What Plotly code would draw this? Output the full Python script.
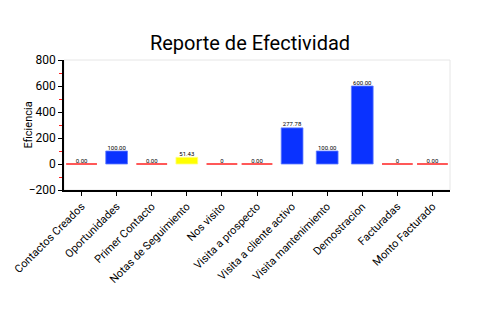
import plotly.graph_objects as go

categorias = ["Contactos Creados", "Oportunidades", "Primer Contacto", "Notas de Seguimiento",
              "Nos visito", "Visita a prospecto", "Visita a cliente activo",
              "Visita mantenimiento", "Demostracion", "Facturadas", "Monto Facturado"]
eficiencia = [0.0, 100.0, 0.0, 51.43, 0.0, 0.0, 277.78, 100.0, 600.0, 0.0, 0.0]
etiquetas = ["0.00", "100.00", "0.00", "51.43", "0", "0.00", "277.78", "100.00", "600.00", "0", "0.00"]

AZUL = "#0A32FF"
AZUL_BORDE = "#5F7BFF"
AMARILLO = "#FFFF00"
AMARILLO_BORDE = "#FFFF80"
ROJO = "#FF2020"

colores = [AMARILLO if 0 < v < 100 else AZUL for v in eficiencia]
bordes = [AMARILLO_BORDE if 0 < v < 100 else AZUL_BORDE for v in eficiencia]
con_valor = [v != 0 for v in eficiencia]
cat_barras = [c for c, m in zip(categorias, con_valor) if m]
val_barras = [v for v, m in zip(eficiencia, con_valor) if m]
col_barras = [c for c, m in zip(colores, con_valor) if m]
bor_barras = [c for c, m in zip(bordes, con_valor) if m]
cat_cero = [c for c, m in zip(categorias, con_valor) if not m]
val_cero = [v for v, m in zip(eficiencia, con_valor) if not m]

FUENTE = "Roboto, sans-serif"

fig = go.Figure()
fig.add_trace(go.Bar(
    x=cat_barras, y=val_barras,
    marker=dict(color=col_barras, line=dict(color=bor_barras, width=0.8)),
    width=0.62, hoverinfo="x+y",
))
# Categories with zero efficiency are drawn as a flat red stroke
fig.add_trace(go.Scatter(
    x=cat_cero, y=val_cero, mode="markers",
    marker=dict(symbol="line-ew", size=22, line=dict(color=ROJO, width=1.5)),
    hoverinfo="x+y",
))
# Value labels
fig.add_trace(go.Scatter(
    x=categorias, y=eficiencia, mode="text", text=etiquetas,
    textposition="top center", textfont=dict(size=6, color="black", family=FUENTE),
    hoverinfo="skip",
))

fig.update_layout(
    width=500, height=330,
    margin=dict(l=60, r=50, t=60, b=140),
    paper_bgcolor="white", plot_bgcolor="white",
    showlegend=False,
    title=dict(text="Reporte de Efectividad", x=0.5, xanchor="center", y=0.87, yanchor="middle",
               font=dict(size=20, color="black", family=FUENTE)),
    shapes=[dict(type="rect", xref="paper", yref="paper", x0=0, y0=0, x1=1, y1=1,
                 line=dict(color="#E6E6E6", width=1), layer="below")],
    annotations=[dict(text="Eficiencia", xref="paper", yref="paper", x=-0.092, y=0.5,
                      textangle=-90, showarrow=False, xanchor="center", yanchor="middle",
                      font=dict(size=11, color="black", family=FUENTE))],
)
fig.update_xaxes(
    type="category", categoryorder="array", categoryarray=categorias,
    showline=True, linecolor="black", linewidth=1.5,
    ticks="outside", ticklen=4, tickcolor="black",
    tickangle=-45, tickfont=dict(size=11, color="black", family=FUENTE),
    showgrid=False, range=[-0.5, len(categorias) - 0.5],
)
fig.update_yaxes(
    range=[-200, 800], dtick=200, tick0=0,
    showline=True, linecolor="black", linewidth=1.5,
    ticks="outside", ticklen=4, tickcolor="black",
    tickfont=dict(size=12, color="black", family=FUENTE),
    showgrid=False, zeroline=False,
    minor=dict(dtick=100, tick0=0, ticks="outside", ticklen=3, tickcolor=ROJO, showgrid=False),
)

fig.write_html("out.html")
